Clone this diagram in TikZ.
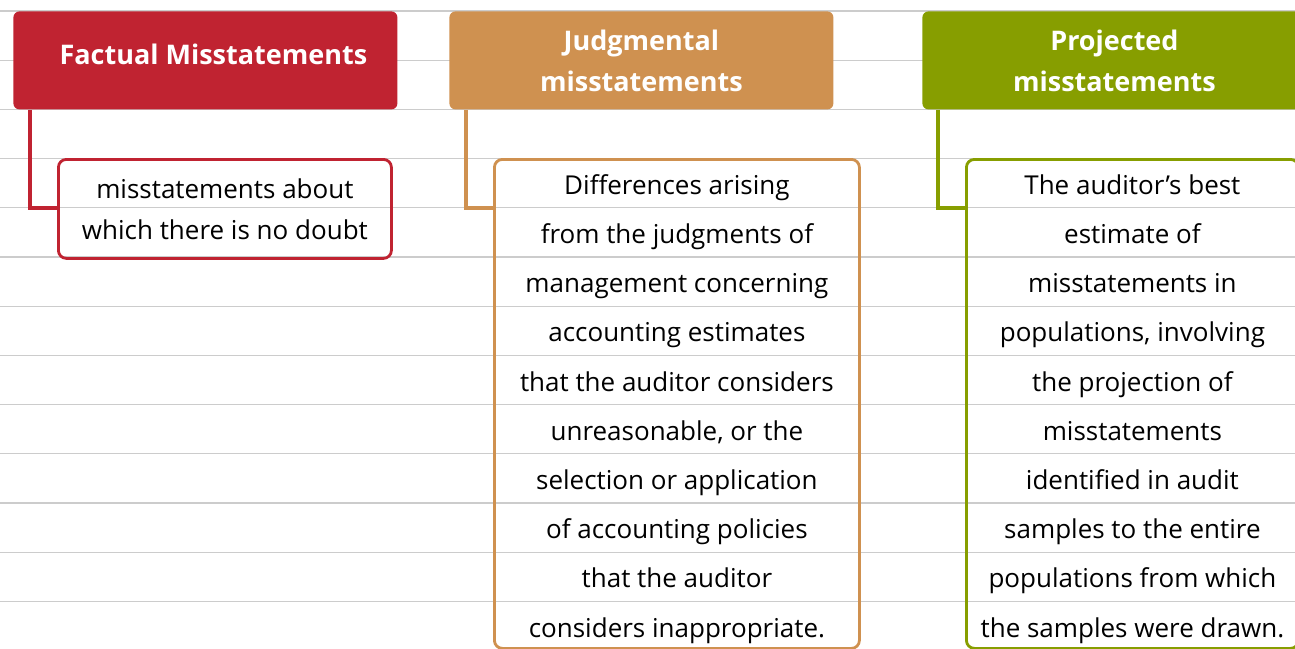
\documentclass[tikz,border=0pt]{standalone}
\usepackage{fontspec}
\setmainfont{Open Sans}
\usetikzlibrary{positioning}

\begin{document}
\begin{tikzpicture}[x=0.5pt,y=-0.5pt]
\definecolor{factred}{RGB}{192,35,49}
\definecolor{judgorange}{RGB}{207,145,80}
\definecolor{projgreen}{RGB}{135,158,0}
\tikzset{
     header/.style={fill=#1, rounded corners=3pt, inner sep=0pt, anchor=north west,
       minimum width=192pt, minimum height=49pt, text=white, align=center,
       font=\bfseries\fontsize{13.5}{20.5}\selectfont},
     detail/.style={draw=#1, line width=1.4pt, rounded corners=4pt, inner sep=0pt,
       anchor=north west, align=center, font=\fontsize{13}{24.6}\selectfont},
     branch/.style={draw=#1, line width=1.6pt}}
\def\topstrut{\rule{0pt}{15pt}}

\useasboundingbox (0,0) rectangle (1295,648);
\clip (0,0) rectangle (1295,648);

% The ruled lines
\foreach \k in {0,...,12}
  \draw[black!20, line width=0.6pt] (0,11+49.2*\k) -- (1295,11+49.2*\k);

% The headers
\node (facthdr) [header=factred, text depth=6pt] at (13,11) {\hspace*{8pt}Factual Misstatements};
\node (judghdr) [header=judgorange] at (449,11) {Judgmental\\misstatements};
\node (projhdr) [header=projgreen] at (922,11) {Projected\\misstatements};

% The details
\node (factbox) [detail=factred, minimum width=166.5pt, minimum height=49.5pt,
  font=\fontsize{13}{20.5}\selectfont] at (57,158)
  {misstatements about\\which there is no doubt};
\node (judgbox) [detail=judgorange, minimum width=182.5pt, minimum height=244.5pt] at (493,158)
  {\topstrut Differences arising\\from the judgments of\\management concerning\\accounting estimates\\
   that the auditor considers\\unreasonable, or the\\selection or application\\
   of accounting policies\\that the auditor\\considers inappropriate.};
\node (projbox) [detail=projgreen, minimum width=166pt, minimum height=244.5pt] at (965,158)
  {\topstrut The auditor's best\\estimate of\\misstatements in\\populations, involving\\
   the projection of\\misstatements\\identified in audit\\samples to the entire\\
   populations from which\\the samples were drawn.};

% The branches
\draw [branch=factred] ([xshift=8.5pt]facthdr.south west) |- ([yshift=-25pt]factbox.north west);
\draw [branch=judgorange] ([xshift=8.5pt]judghdr.south west) |- ([yshift=-25pt]judgbox.north west);
\draw [branch=projgreen] ([xshift=8pt]projhdr.south west) |- ([yshift=-25pt]projbox.north west);
\end{tikzpicture}
\end{document}
